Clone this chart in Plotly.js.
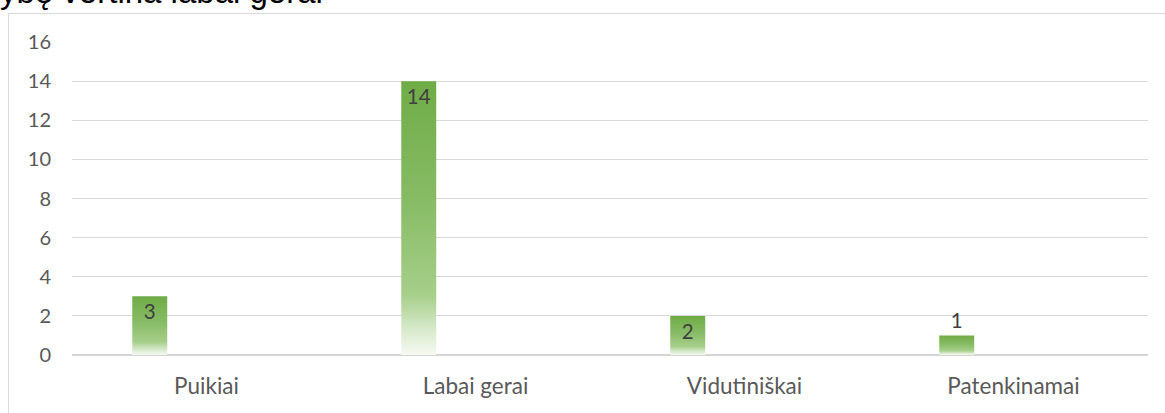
<!DOCTYPE html>
<html>
<head>
<meta charset="utf-8">
<script src="https://cdn.plot.ly/plotly-3.0.1.min.js"></script>
<style>
  html, body { margin: 0; padding: 0; background: #ffffff; }
  #wrap { position: relative; width: 1165px; height: 413px; overflow: hidden; }
  #frame { position: absolute; left: 8px; top: 13px; width: 1200px; height: 450px;
           border-left: 1px solid #d9d9d9; border-top: 1px solid #d9d9d9; }
  #chart { position: absolute; left: 0; top: 0; width: 1165px; height: 413px; }
</style>
</head>
<body>
<div id="wrap">
  <div id="frame"></div>
  <div id="chart"></div>
</div>
<script>
const titleText = "ybę vertina labai gerai";
const categories = ["Puikiai", "Labai gerai", "Vidutiniškai", "Patenkinamai"];
const values = [3, 14, 2, 1];
const yTicks = [0, 2, 4, 6, 8, 10, 12, 14, 16];

const trace = {
  type: "bar",
  x: categories,
  y: values,
  text: values.map(String),
  textposition: ["inside", "inside", "inside", "outside"],
  insidetextanchor: "end",
  textangle: 0,
  constraintext: "none",
  textfont: { family: "Lato, 'Open Sans', sans-serif", size: 20.5, color: "#404040" },
  width: 0.13,
  offset: -0.276,
  marker: { color: "#70ad47", line: { width: 0 } },
  hoverinfo: "none",
  cliponaxis: false
};

const layout = {
  width: 1165,
  height: 413,
  paper_bgcolor: "rgba(0,0,0,0)",
  plot_bgcolor: "rgba(0,0,0,0)",
  margin: { l: 72, r: 17, t: 42, b: 58 },
  showlegend: false,
  title: {
    text: titleText,
    font: { family: "'Liberation Sans', Arial, sans-serif", size: 33, color: "#000000" },
    xref: "container", x: 0, xanchor: "left",
    yref: "container", y: 1, yanchor: "top",
    pad: { t: -20 }
  },
  xaxis: {
    type: "category",
    showgrid: false,
    showline: false,
    zeroline: false,
    ticks: "",
    tickfont: { family: "Lato, 'Open Sans', sans-serif", size: 22.5, color: "#595959" },
    ticklabelstandoff: 15
  },
  yaxis: {
    range: [0, 16],
    tickvals: yTicks,
    ticktext: yTicks.map(String),
    showgrid: true,
    gridcolor: "#d9d9d9",
    gridwidth: 1,
    zeroline: true,
    zerolinecolor: "#d4d4d4",
    zerolinewidth: 1.5,
    showline: false,
    ticks: "",
    tickfont: { family: "Lato, 'Open Sans', sans-serif", size: 20, color: "#595959" },
    ticklabelstandoff: 20
  }
};

Plotly.newPlot("chart", [trace], layout, { staticPlot: true, displayModeBar: false }).then(function (gd) {
  const svg = gd.querySelector(".main-svg");
  const ns = "http://www.w3.org/2000/svg";
  let defs = svg.querySelector("defs");
  if (!defs) { defs = document.createElementNS(ns, "defs"); svg.insertBefore(defs, svg.firstChild); }
  const grad = document.createElementNS(ns, "linearGradient");
  grad.setAttribute("id", "barGrad");
  grad.setAttribute("x1", "0"); grad.setAttribute("y1", "0");
  grad.setAttribute("x2", "0"); grad.setAttribute("y2", "1");
  [["0", "#6fac46"], ["0.45", "#88bc66"], ["0.78", "#a6cf8a"], ["0.9", "#d5e8c8"], ["1", "#f6faf3"]].forEach(function (s) {
    const st = document.createElementNS(ns, "stop");
    st.setAttribute("offset", s[0]);
    st.setAttribute("stop-color", s[1]);
    grad.appendChild(st);
  });
  defs.appendChild(grad);
  gd.querySelectorAll(".bars .point path").forEach(function (p) {
    p.style.fill = "url(#barGrad)";
  });
});
</script>
</body>
</html>
